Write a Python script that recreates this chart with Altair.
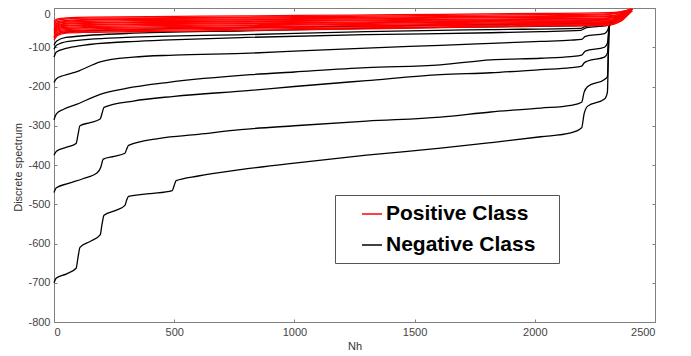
import altair as alt
import pandas as pd

# ---- Negative class (black) curves: anchor x and y values ----
neg_x = [
    [0, 10, 50, 92, 100, 108, 150, 192, 200, 208, 260, 295, 302, 310, 400, 492, 500, 508, 600, 775, 1000, 1300, 1608, 1817, 2025, 2150, 2195, 2205, 2220, 2290, 2302, 2306, 2310, 2400],
    [0, 10, 60, 120, 180, 195, 205, 250, 295, 302, 310, 440, 600, 775, 1000, 1300, 1608, 1817, 2025, 2150, 2195, 2205, 2220, 2290, 2302, 2306, 2310, 2400],
    [0, 10, 50, 92, 100, 108, 150, 192, 200, 208, 330, 500, 817, 1000, 1300, 1608, 1817, 2025, 2150, 2195, 2205, 2220, 2290, 2302, 2310, 2400],
    [0, 10, 40, 96, 192, 300, 470, 817, 1000, 1300, 1608, 1817, 2025, 2150, 2195, 2210, 2290, 2302, 2310, 2400],
    [0, 10, 40, 96, 192, 330, 500, 817, 1000, 1300, 1608, 1817, 2025, 2150, 2195, 2210, 2290, 2302, 2310, 2400],
    [0, 10, 50, 120, 300, 450, 800, 1300, 1817, 2025, 2190, 2215, 2300, 2310, 2400],
    [0, 10, 60, 300, 800, 1300, 1817, 2190, 2215, 2300, 2400],
    [0, 10, 50, 300, 800, 1300, 1817, 2190, 2300, 2400],
    [0, 10, 40, 300, 800, 1300, 1817, 2300, 2400],
]
neg_y = [
    [-700, -688, -678, -663, -635, -610, -595, -578, -550, -528, -515, -503, -490, -480, -473, -465, -452, -440, -428, -412, -395, -375, -357, -343, -328, -318, -305, -270, -250, -232, -215, -120, -45, -5],
    [-470, -458, -447, -435, -420, -405, -385, -378, -370, -360, -350, -332, -322, -310, -300, -288, -278, -265, -255, -248, -240, -215, -200, -182, -175, -110, -45, -5],
    [-375, -365, -355, -345, -322, -300, -292, -283, -268, -253, -237, -225, -210, -200, -185, -170, -165, -157, -152, -148, -140, -135, -125, -115, -45, -5],
    [-285, -270, -258, -245, -220, -205, -190, -170, -163, -152, -145, -132, -128, -124, -120, -110, -100, -90, -45, -5],
    [-190, -180, -172, -162, -137, -125, -120, -115, -110, -102, -95, -90, -85, -82, -80, -72, -65, -58, -45, -5],
    [-125, -112, -103, -95, -86, -82, -75, -68, -63, -60, -57, -50, -45, -40, -5],
    [-105, -95, -85, -75, -68, -60, -55, -52, -46, -42, -5],
    [-95, -85, -75, -65, -58, -52, -48, -45, -40, -5],
    [-75, -68, -62, -55, -50, -46, -42, -38, -5],
]

# ---- Positive class (red) curves ----
pos_x_base = [0, 15, 50, 150, 400, 800, 1233, 1608, 2025, 2300, 2360]
pos_end = [2405, 2400, 2408, 2395, 2402, 2398, 2405, 2392, 2400, 2396, 2403, 2398, 2406, 2394, 2400]
pos_y = [
    [-33, -28, -25, -23, -22, -20, -18, -16, -14, -12, -9, -2],
    [-37, -31, -28, -26, -25, -23, -21, -19, -17, -15, -10, -3],
    [-40, -35, -32, -29, -27, -25, -24, -22, -20, -17, -12, -3],
    [-43, -38, -34, -31, -29, -28, -26, -24, -22, -20, -14, -4],
    [-47, -40, -36, -34, -32, -30, -28, -26, -24, -22, -15, -4],
    [-50, -43, -39, -37, -35, -33, -31, -29, -27, -25, -17, -5],
    [-53, -45, -41, -39, -37, -35, -33, -31, -29, -27, -19, -5],
    [-56, -48, -44, -42, -40, -38, -36, -33, -31, -29, -21, -5],
    [-59, -50, -46, -44, -42, -40, -38, -35, -33, -31, -23, -6],
    [-62, -53, -49, -47, -45, -43, -40, -37, -35, -33, -25, -6],
    [-65, -56, -52, -50, -48, -45, -42, -40, -37, -35, -26, -6],
    [-68, -59, -55, -53, -51, -48, -45, -42, -39, -37, -28, -7],
    [-72, -62, -58, -56, -54, -51, -48, -45, -42, -40, -30, -7],
    [-77, -66, -61, -59, -57, -54, -51, -48, -44, -42, -31, -7],
    [-82, -70, -64, -62, -60, -57, -54, -50, -46, -44, -33, -8],
]

x_ticks = [0, 500, 1000, 1500, 2000, 2500]
y_ticks = [-800, -700, -600, -500, -400, -300, -200, -100, 0]
classes = ["Positive Class", "Negative Class"]
colors = ["#ff0000", "#000000"]

rows = []
for i, (xs, ys) in enumerate(zip(neg_x, neg_y)):
    for j, (a, b) in enumerate(zip(xs, ys)):
        rows.append({"id": f"n{i}", "cls": "Negative Class", "x": a, "y": b, "k": j})
for i, ys in enumerate(pos_y):
    xs = pos_x_base + [pos_end[i]]
    for j, (a, b) in enumerate(zip(xs, ys)):
        rows.append({"id": f"p{i}", "cls": "Positive Class", "x": a, "y": b, "k": j})
df = pd.DataFrame(rows)

W, H = 601, 314

xenc = alt.X("x:Q", scale=alt.Scale(domain=[0, 2500], nice=False, zero=False),
             axis=alt.Axis(values=x_ticks, title="Nh", grid=True, gridDash=[3, H - 6],
                           gridColor="#808080", ticks=False, domain=False,
                           labelExpr="'' + datum.value",
                           labelPadding=4, titlePadding=3))
yenc = alt.Y("y:Q", scale=alt.Scale(domain=[-800, 0], nice=False, zero=False),
             axis=alt.Axis(values=y_ticks, title="Discrete spectrum", grid=True,
                           gridDash=[3, W - 6], gridColor="#808080", ticks=False,
                           domain=False, labelPadding=4, titleX=-36, titleY=H / 2 + 2,
                           labelExpr="'' + datum.value",
                           labelBaseline={"condition": {"test": "datum.value == 0", "value": "top"},
                                          "value": "middle"},
                           titleBaseline="middle", titleAngle=270))
color = alt.Color("cls:N", scale=alt.Scale(domain=classes, range=colors),
                  legend=alt.Legend(title=" ", titleOrient="right", titlePadding=16,
                                    titleFontSize=4,
                                    orient="none", legendX=281, legendY=187,
                                    symbolType="stroke", symbolSize=400, symbolStrokeWidth=1.5,
                                    labelFontSize=21, labelFontWeight="bold",
                                    labelFont="Liberation Sans", labelColor="#000000",
                                    strokeColor="#555555", fillColor="#ffffff",
                                    padding=8, rowPadding=10, symbolOffset=18, labelOffset=3))

base = alt.Chart(df)
neg = base.transform_filter(alt.datum.cls == "Negative Class").mark_line(
    strokeWidth=1.3, interpolate="monotone").encode(
    x=xenc, y=yenc, color=color, detail="id:N", order="k:Q")
pos = base.transform_filter(alt.datum.cls == "Positive Class").mark_line(
    strokeWidth=1.3, interpolate="monotone").encode(
    x=xenc, y=yenc, color=color, detail="id:N", order="k:Q")

chart = alt.layer(neg, pos).properties(
    width=W, height=H,
    autosize=alt.AutoSizeParams(type="none"),
    padding={"left": 46, "top": 0, "right": 8, "bottom": 34},
).configure_view(stroke="#808080", strokeWidth=1).configure_axis(
    labelFont="Liberation Sans", labelFontSize=11, labelColor="#444444",
    titleFont="Liberation Sans", titleFontSize=11, titleColor="#333333",
    titleFontWeight="normal", gridWidth=1)

chart.save("out.html", embed_options={"renderer": "svg", "actions": False})
